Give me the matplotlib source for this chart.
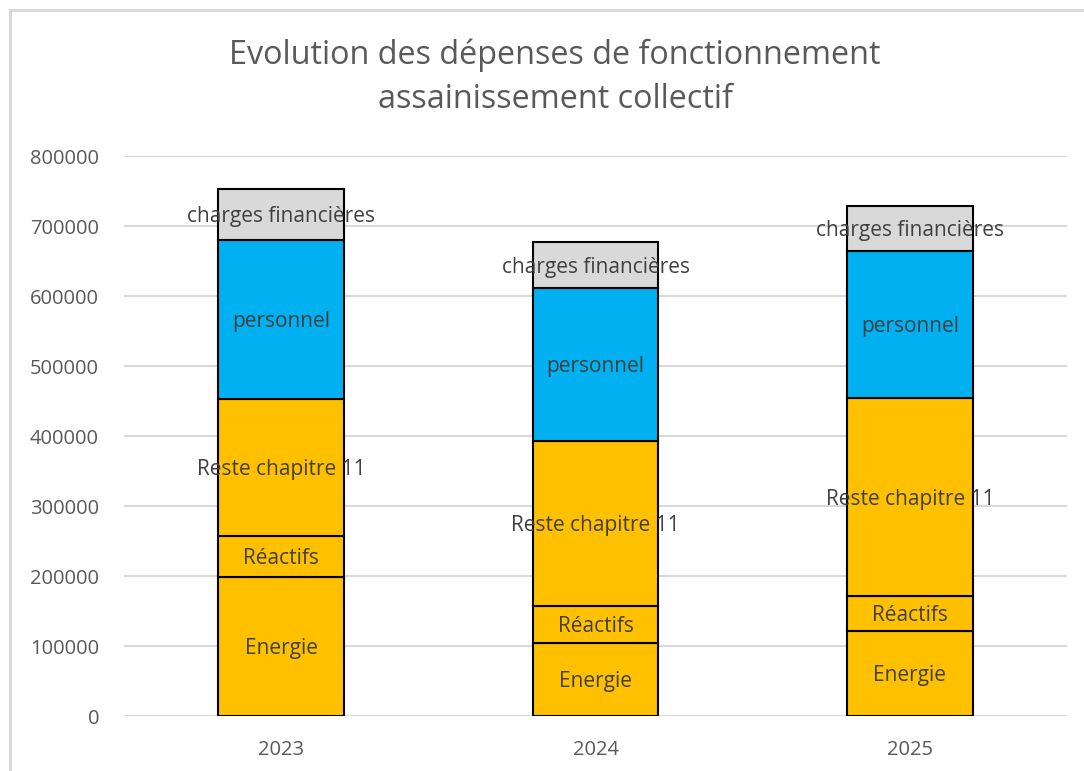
import matplotlib.pyplot as plt
import numpy as np
from matplotlib.patches import Rectangle

years = ["2023", "2024", "2025"]
segments = ["Energie", "Réactifs", "Reste chapitre 11", "personnel", "charges financières"]
energie = [198000, 105000, 121000]
reactifs = [59000, 51500, 50000]
reste = [196000, 236000, 284000]
personnel = [227000, 218500, 210000]
charges = [73000, 66000, 63000]
yticks = [0, 100000, 200000, 300000, 400000, 500000, 600000, 700000, 800000]

series = [energie, reactifs, reste, personnel, charges]
colors = ["#FFC000", "#FFC000", "#FFC000", "#00B0F0", "#D9D9D9"]

plt.rcParams['font.family'] = ['Open Sans', 'DejaVu Sans']

fig = plt.figure(figsize=(10.84, 7.71), dpi=100)
ax = fig.add_axes([0.1144, 0.0713, 0.870, 0.7263])

# chart border (only top and left visible in the reference)
fig.add_artist(Rectangle((10 / 1084, -0.1), 1.2, 1.1 - 10 / 771,
                         transform=fig.transFigure, fill=False,
                         edgecolor="#D9D9D9", linewidth=2.2, zorder=0))

x = np.arange(len(years))
bottom = np.zeros(len(years))
for name, vals, col in zip(segments, series, colors):
    vals = np.array(vals, dtype=float)
    ax.bar(x, vals, 0.4, bottom=bottom, color=col, edgecolor="black",
           linewidth=1.5, zorder=3)
    for xi, b, v in zip(x, bottom, vals):
        ax.text(xi, b + v / 2 - 3000, name, ha="center", va="center",
                fontsize=15, color="#404040", zorder=4)
    bottom += vals

ax.set_xlim(-0.5, len(years) - 0.5)
ax.set_ylim(0, 800000)
ax.set_xticks(x)
ax.set_xticklabels(years)
ax.set_yticks(yticks)
ax.set_yticklabels([str(t) for t in yticks])
ax.yaxis.grid(True, color="#D9D9D9", linewidth=1.5, zorder=0)
ax.set_axisbelow(True)
for s in ax.spines.values():
    s.set_visible(False)
ax.tick_params(axis="both", length=0, labelsize=14.5, colors="#595959")
ax.tick_params(axis="y", pad=18)
ax.tick_params(axis="x", pad=17)

fig.text(0.512, 0.8995, "Evolution des dépenses de fonctionnement\nassainissement collectif",
         ha="center", va="center", fontsize=23.3, color="#595959", linespacing=1.45)

fig.savefig("out.png", dpi=100)
